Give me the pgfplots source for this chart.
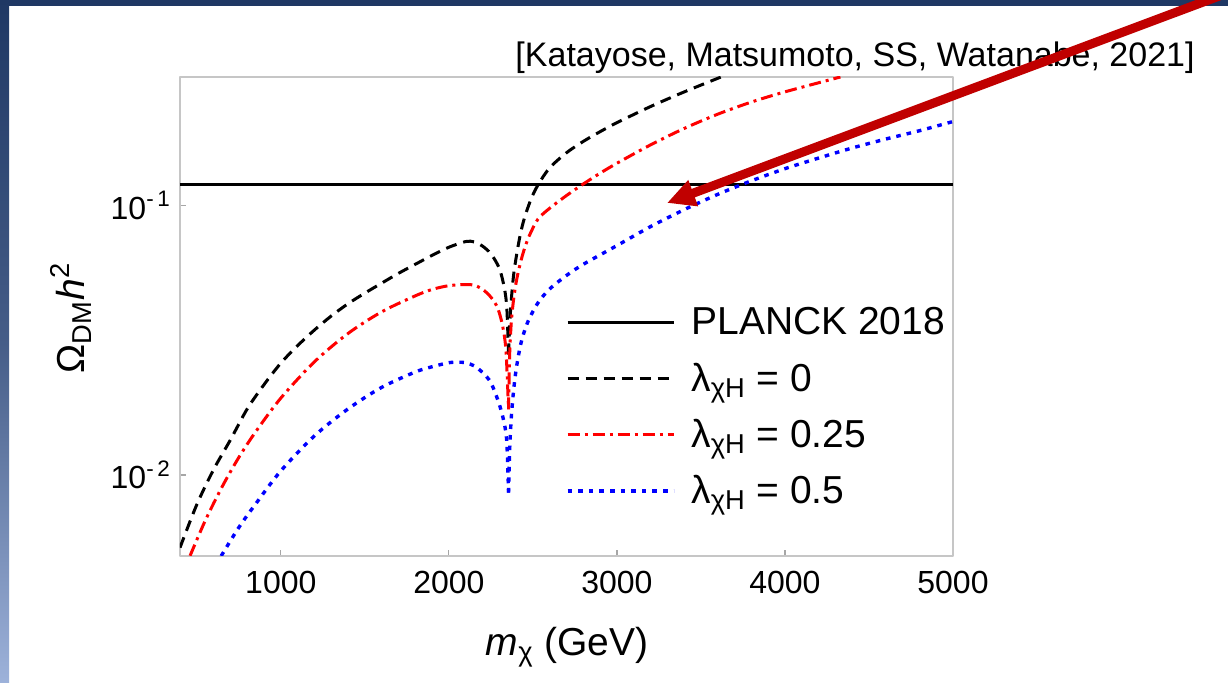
\documentclass[border=0pt]{standalone}
\usepackage{pgfplots}
\pgfplotsset{compat=1.18}
\usepackage{fontspec}
\setmainfont{Liberation Sans}
\usetikzlibrary{arrows.meta}
\definecolor{navy}{HTML}{1F3864}
\definecolor{lightnavy}{HTML}{9DB2DA}
\definecolor{arrowred}{HTML}{C00000}
\begin{document}
\begin{tikzpicture}
\clip (0,0) rectangle (614pt,341.5pt);
\fill[white] (0,0) rectangle (614pt,341.5pt);
\fill[navy] (0,338.5pt) rectangle (614pt,341.5pt);
\shade[top color=navy, bottom color=lightnavy, middle color=navy!70!lightnavy] (0,0) rectangle (4.5pt,341.5pt);
\begin{axis}[
  at={(90pt,63.5pt)}, anchor=south west,
  scale only axis, width=386.5pt, height=239.5pt,
  xmin=400, xmax=5000, ymode=log, ymin=0.005, ymax=0.3,
  xtick={1000,2000,3000,4000,5000},
  xticklabels={1000,2000,3000,4000,5000},
  ytick={0.1,0.01},
  yticklabels={10\textsuperscript{-\,1},10\textsuperscript{-\,2}},
  minor ytick={},
  tick pos=left,
  tick align=inside,
  major tick length=3pt,
  every tick/.style={gray!70, line width=0.6pt},
  axis line style={gray!45, line width=1pt},
  ticklabel style={font=\fontsize{16}{19}\selectfont},
  xticklabel style={yshift=-4pt},
  yticklabel style={xshift=-1pt},
  xlabel={\textit{m}\textsubscript{χ} (GeV)},
  ylabel={Ω\textsubscript{DM}\textit{h}\textsuperscript{2}},
  xlabel style={font=\fontsize{19.5}{23}\selectfont, at={(axis description cs:0.501,-0.207)}, anchor=base},
  ylabel style={font=\fontsize{19.5}{23}\selectfont, at={(axis description cs:-0.141,0.497)}, anchor=center, rotate=0},
  legend style={draw=none, fill=none, at={(0.491,0.536)}, anchor=north west,
     font=\fontsize{19.5}{23}\selectfont, row sep=8.5pt,
     /tikz/every odd column/.append style={column sep=6pt}},
  legend cell align=left,
  legend image code/.code={\draw[#1] (0pt,0pt) -- (53pt,0pt);},
  line join=round,
  every axis plot/.append style={smooth, tension=0.5},
]
\addplot[black, line width=1.6pt, smooth=false] coordinates {(400,0.12) (5000,0.12)};
\addlegendentry{PLANCK 2018}
% lambda = 0
\addplot[black, line width=1.5pt, dash pattern=on 5.5pt off 3.5pt] coordinates {
(400,0.00537) (500,0.00776) (600,0.01047) (700,0.01349) (800,0.01758) (900,0.02163)
(1000,0.02600) (1100,0.0302) (1200,0.0345) (1300,0.0389) (1400,0.0432) (1500,0.0473)
(1600,0.0515) (1700,0.0560) (1800,0.0605) (1900,0.0653) (2000,0.0700) (2100,0.0735)
(2150,0.0733) (2200,0.0707) (2250,0.0662) (2300,0.0585) (2330,0.0495) (2345,0.0415)
(2355,0.0280)};
\addlegendentry{λ\textsubscript{χH} = 0}
\addplot[black, line width=1.5pt, dash pattern=on 5.5pt off 3.5pt, forget plot] coordinates {
(2355,0.0280) (2362,0.0360) (2372,0.0450) (2385,0.0550) (2402,0.0650) (2425,0.0780)
(2450,0.0900) (2490,0.1060) (2533,0.1200) (2600,0.1380) (2700,0.1570) (2800,0.1730)
(2900,0.1880) (3000,0.2030) (3200,0.2330) (3400,0.2640) (3620,0.3000)};
% lambda = 0.25
\addplot[red, line width=1.5pt, dash pattern=on 6pt off 2.5pt on 1.5pt off 2.5pt] coordinates {
(460,0.00501) (550,0.00676) (650,0.00902) (750,0.01161) (850,0.01445) (1000,0.01928)
(1200,0.0263) (1400,0.0335) (1600,0.0403) (1800,0.0462) (1900,0.0488) (2000,0.0504)
(2100,0.0509) (2150,0.0506) (2200,0.0489) (2250,0.0457) (2290,0.0417) (2320,0.0357)
(2340,0.0288) (2355,0.0175)};
\addlegendentry{λ\textsubscript{χH} = 0.25}
\addplot[red, line width=1.5pt, dash pattern=on 6pt off 2.5pt on 1.5pt off 2.5pt, forget plot] coordinates {
(2355,0.0175) (2362,0.0282) (2372,0.0372) (2385,0.0447) (2402,0.0525) (2425,0.0610)
(2450,0.0692) (2480,0.0776) (2530,0.0890) (2600,0.0977) (2700,0.1089) (2800,0.1202)
(2900,0.1318) (3000,0.1435) (3200,0.1679) (3400,0.1932) (3600,0.2183) (3800,0.2421)
(4000,0.2642) (4330,0.3000)};
% lambda = 0.5
\addplot[blue, line width=1.7pt, dash pattern=on 2.3pt off 3pt] coordinates {
(645,0.0050) (750,0.00638) (850,0.0078) (1000,0.01035) (1200,0.01396) (1400,0.01758)
(1600,0.02113) (1800,0.0241) (1900,0.0252) (2000,0.0261) (2050,0.0262) (2100,0.0261)
(2150,0.0254) (2200,0.0240) (2250,0.0220) (2300,0.0183) (2330,0.0155) (2345,0.0132)
(2355,0.0086)};
\addlegendentry{λ\textsubscript{χH} = 0.5}
\addplot[blue, line width=1.7pt, dash pattern=on 2.3pt off 3pt, forget plot] coordinates {
(2355,0.0086) (2362,0.0125) (2372,0.0165) (2385,0.0205) (2402,0.0250) (2430,0.0310)
(2470,0.0370) (2530,0.0435) (2600,0.0490) (2700,0.0550) (2800,0.0605) (3000,0.0710)
(3200,0.0835) (3400,0.0965) (3600,0.1100) (3800,0.1235) (4000,0.1370) (4200,0.1500)
(4400,0.1635) (4600,0.1765) (4800,0.1895) (5000,0.2050)};
\end{axis}
\node[anchor=base east, inner sep=0pt, font=\fontsize{17}{20}\selectfont] at (597.5pt,308pt) {[Katayose, Matsumoto, SS, Watanabe, 2021]};
\draw[arrowred, line width=4.5pt, -{Triangle[length=14pt,width=13pt]}] (611pt,344pt) -- (333.5pt,240pt);
\end{tikzpicture}
\end{document}
